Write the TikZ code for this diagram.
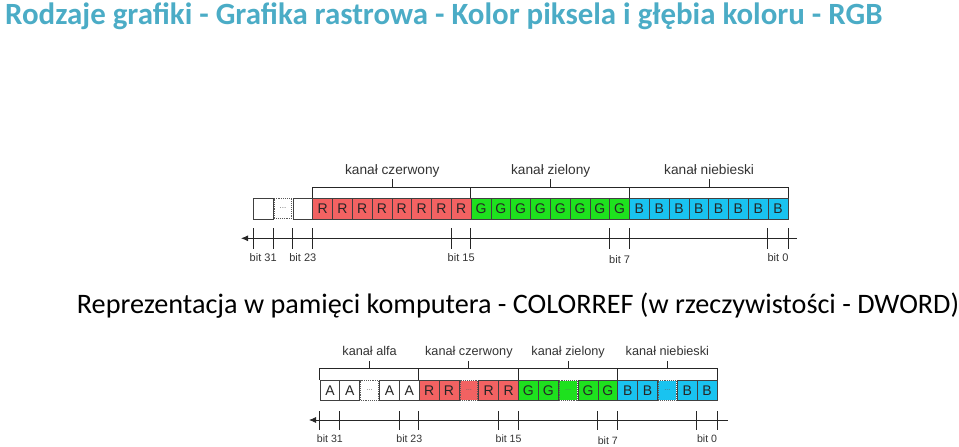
\documentclass[tikz,border=0pt]{standalone}
\usepackage{fontspec}
\setmainfont{Liberation Sans}
\newfontfamily\calibri{Carlito}
\usepackage{tikz}
\usetikzlibrary{arrows.meta, calc, positioning}

\definecolor{tytul}{RGB}{75,172,198}
\definecolor{kanalR}{RGB}{242,98,98}
\definecolor{kanalG}{RGB}{30,225,30}
\definecolor{kanalB}{RGB}{25,195,240}

\begin{document}
\begin{tikzpicture}[>={Latex[length=7pt,width=6pt]}, x=1pt, y=-1pt,
    cell/.style={draw=black!75, line width=0.8pt, minimum width=\Wc, minimum height=\Hc,
        inner sep=0pt, text=black!85, font=\fontsize{14}{14}\selectfont},
    dotcell/.style={draw=black!65, densely dotted, line width=0.9pt, minimum width=\Wc-2pt,
        minimum height=\Hc-1pt, inner sep=0pt, text=black!60, font=\fontsize{8}{8}\selectfont},
    bracket/.style={black!85, line width=0.8pt},
    axis/.style={black!85, line width=0.8pt},
    chlab/.style={inner sep=0pt, text=black!80, font=\fontsize{13.7}{14}\selectfont},
    bitlab/.style={inner sep=0pt, text=black!80, font=\fontsize{11}{11}\selectfont}]
    \useasboundingbox (0,0) rectangle (959,447);

    % 定義
    \def\Xt{253.3} % 上の行の左端
    \def\Yt{208.5} % 上の行の中心
    \def\Wt{19.8}  % セルの幅
    \def\Xb{320}   % 下の行の左端
    \def\Yb{390.4} % 下の行の中心
    \def\Wb{19.85}

    % 見出し
    \node[anchor=base west, inner sep=0pt, text=tytul, font=\calibri\bfseries\fontsize{30.9}{32}\selectfont]
        (tytul) at (5,24.5) {Rodzaje grafiki - Grafika rastrowa - Kolor piksela i głębia koloru - RGB};
    \node[anchor=base west, inner sep=0pt, font=\calibri\fontsize{28.2}{30}\selectfont]
        (opis) at (76.7,313.3) {Reprezentacja w pamięci komputera - COLORREF (w rzeczywistości - DWORD)};

    % 上の行 (RGB)
    \begin{scope}
        \def\Wc{19.8pt}\def\Hc{21pt}
        \node[cell] (t0) at ({\Xt+0.5*\Wt},\Yt) {};
        \node[dotcell] (t1) at ({\Xt+1.5*\Wt},\Yt) {...};
        \node[cell] (t2) at ({\Xt+2.5*\Wt},\Yt) {};
        \foreach \k in {3,...,10} \node[cell, fill=kanalR] (t\k) at ({\Xt+(\k+0.5)*\Wt},\Yt) {R};
        \foreach \k in {11,...,18} \node[cell, fill=kanalG] (t\k) at ({\Xt+(\k+0.5)*\Wt},\Yt) {G};
        \foreach \k in {19,...,26} \node[cell, fill=kanalB] (t\k) at ({\Xt+(\k+0.5)*\Wt},\Yt) {B};
    \end{scope}

    % 上の括弧とラベル
    \coordinate (tBr) at (0,187.3);
    \coordinate (tChT) at (0,179);
    \coordinate (tChB) at (0,174);
    \draw[bracket] (t3.north west) -- (t3.north west |- tBr) -- (t26.north east |- tBr) -- (t26.north east);
    \foreach \n in {t11,t19} \draw[bracket] (\n.north west) -- (\n.north west |- tBr);
    \foreach \n/\txt in {t6/kanał czerwony, t14/kanał zielony, t22/kanał niebieski} {
        \draw[bracket] (\n.north east |- tBr) -- (\n.north east |- tChT);
        \node[chlab, anchor=base] (lab\n) at (\n.north east |- tChB) {\txt};
    }

    % 上の軸
    \coordinate (tAxL) at (241,238.3);
    \coordinate (tAxR) at (797,238.3);
    \coordinate (tTickU) at (0,228);
    \coordinate (tTickD) at (0,248.5);
    \coordinate (tBitB) at (0,261);
    \draw[axis, <-] (tAxL) -- (tAxR);
    \foreach \a in {t0.west, t0.east, t2.west, t3.west, t10.west, t11.west, t18.west, t19.west, t26.west, t26.east}
        \draw[axis] (\a |- tTickU) -- (\a |- tTickD);
    \foreach \n/\txt/\d in {t0/bit 31/0, t2/bit 23/0, t10/bit 15/0, t18/bit 7/2, t26/bit 0/0}
        \node[bitlab, anchor=base] (bl\n) at ($(\n |- tBitB)+(0,\d)$) {\txt};

    % 下の行 (ARGB)
    \begin{scope}[every node/.append style={font=\fontsize{12.7}{13}\selectfont}]
        \def\Wc{19.85pt}\def\Hc{20.7pt}
        \foreach \g/\l/\f in {0/A/white, 1/R/kanalR, 2/G/kanalG, 3/B/kanalB} {
            \foreach \j in {0,1,3,4} {
                \pgfmathtruncatemacro\k{5*\g+\j}
                \node[cell, fill=\f] (b\k) at ({\Xb+(\k+0.5)*\Wb},\Yb) {\l};
            }
            \pgfmathtruncatemacro\k{5*\g+2}
            \node[dotcell, fill=\f, font=\fontsize{7.5}{8}\selectfont] (b\k) at ({\Xb+(\k+0.5)*\Wb},\Yb) {...};
        }
    \end{scope}

    % 下の括弧とラベル
    \coordinate (bBr) at (0,368.3);
    \coordinate (bChT) at (0,361);
    \coordinate (bChB) at (0,355);
    \draw[bracket] (b0.north west) -- (b0.north west |- bBr) -- (b19.north east |- bBr) -- (b19.north east);
    \foreach \n in {b5,b10,b15} \draw[bracket] (\n.north west) -- (\n.north west |- bBr);
    \foreach \n/\txt in {b2/kanał alfa, b7/kanał czerwony, b12/kanał zielony, b17/kanał niebieski} {
        \draw[bracket] (\n.north |- bBr) -- (\n.north |- bChT);
        \node[chlab, anchor=base, font=\fontsize{12.7}{13}\selectfont] (lab\n) at (\n.north |- bChB) {\txt};
    }

    % 下の軸
    \coordinate (bAxL) at (309,420);
    \coordinate (bAxR) at (728,420);
    \coordinate (bTickU) at (0,411);
    \coordinate (bTickD) at (0,430);
    \coordinate (bBitB) at (0,442.3);
    \draw[axis, <-] (bAxL) -- (bAxR);
    \foreach \a in {b0.west, b1.west, b4.west, b5.west, b9.west, b10.west, b14.west, b15.west, b19.west, b19.east}
        \draw[axis] (\a |- bTickU) -- (\a |- bTickD);
    \foreach \n/\txt/\d in {b0/bit 31/0, b4/bit 23/0, b9/bit 15/0, b14/bit 7/2.5, b19/bit 0/0}
        \node[bitlab, anchor=base, font=\fontsize{10.6}{11}\selectfont] (bl\n) at ($(\n |- bBitB)+(0,\d)$) {\txt};
\end{tikzpicture}
\end{document}
